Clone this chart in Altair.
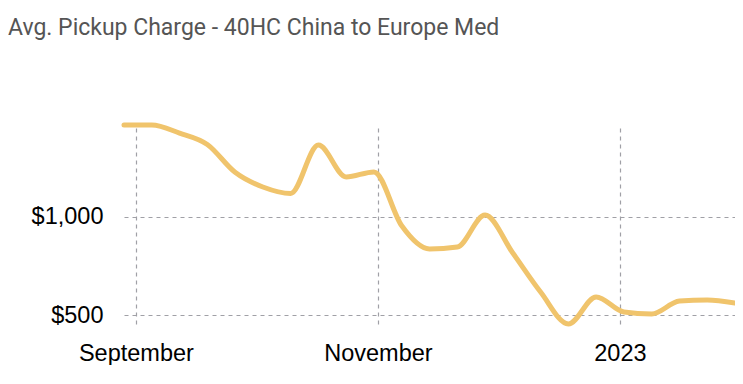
import altair as alt
import pandas as pd

dates = ["2022-08-29", "2022-09-05", "2022-09-12", "2022-09-19", "2022-09-26",
         "2022-10-03", "2022-10-10", "2022-10-17", "2022-10-24", "2022-10-31",
         "2022-11-07", "2022-11-14", "2022-11-21", "2022-11-28", "2022-12-05",
         "2022-12-12", "2022-12-19", "2022-12-26", "2023-01-02", "2023-01-09",
         "2023-01-16", "2023-01-23", "2023-01-30"]
charges = [1469, 1469, 1428, 1370, 1228,
           1153, 1120, 1367, 1204, 1230,
           955, 837, 847, 1010, 816,
           617, 454, 592, 515, 505,
           571, 577, 561]

x_ticks = ["2022-09-01", "2022-11-01", "2023-01-01"]
y_ticks = [500, 1000]
x_domain = ["2022-08-29", "2023-01-30"]
y_domain = [449, 1454]

df = pd.DataFrame({"date": dates, "charge": charges})

chart = alt.Chart(df).mark_line(
    interpolate="monotone", color="#f0c46c", strokeWidth=5, clip=False,
    strokeCap="round", strokeJoin="round"
).encode(
    x=alt.X("date:T", scale=alt.Scale(type="utc", domain=x_domain, nice=False),
            axis=alt.Axis(values=x_ticks, title=None, domain=False, ticks=False,
                          labelExpr="utcmonth(datum.value) == 0 ? utcFormat(datum.value, '%Y') : utcFormat(datum.value, '%B')",
                          labelFont="Liberation Sans", labelFontSize=23.5, labelColor="#000",
                          labelPadding=16, grid=True, gridDash=[4, 4], gridColor="#a0a0a6",
                          gridWidth=1.2, labelFlush=False, labelOverlap=False)),
    y=alt.Y("charge:Q", scale=alt.Scale(domain=y_domain, nice=False, zero=False),
            axis=alt.Axis(values=y_ticks, title=None, domain=False, ticks=False,
                          format="$,.0f", labelFont="Liberation Sans", labelFontSize=23.5,
                          labelColor="#000", labelPadding=21, grid=True, gridDash=[4, 4],
                          gridColor="#a0a0a6", gridWidth=1.2)),
).properties(
    width=611, height=197,
    title=alt.TitleParams("Avg. Pickup Charge - 40HC China to Europe Med",
                          anchor="start", frame="group", font="Roboto", fontSize=23,
                          fontWeight="normal", color="#555555", dx=-116, dy=-79),
    autosize=alt.AutoSizeParams(type="none"),
    padding={"left": 116, "top": 120, "right": 0, "bottom": 40},
).configure_view(stroke=None)

chart.save("out.html", embed_options={"renderer": "svg", "actions": False})
